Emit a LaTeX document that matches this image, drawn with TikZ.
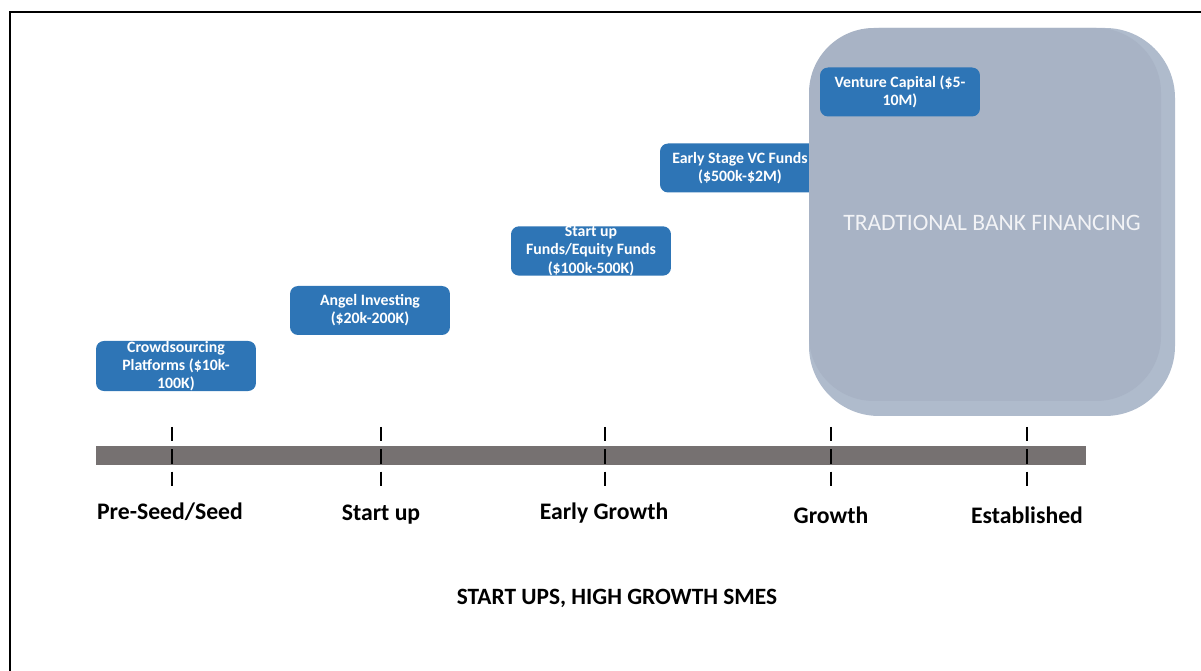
\documentclass[tikz,border=0pt]{standalone}
\usepackage{fontspec}
\setmainfont{Carlito}
\usetikzlibrary{positioning}
\definecolor{fundblue}{HTML}{2E75B6}
\definecolor{bankouter}{HTML}{AFBBCC}
\definecolor{bankinner}{HTML}{A8B3C5}
\definecolor{bargrey}{HTML}{767171}
\definecolor{banktext}{HTML}{F2F3F6}

\begin{document}
\begin{tikzpicture}[x=0.02cm, y=-0.02cm,
  fund/.style={fill=fundblue, text=white, rounded corners=0.16cm,
    minimum width=3.2cm, minimum height=0.98cm, inner sep=0pt, align=center,
    font=\fontsize{9}{10.4}\selectfont\bfseries},
  stage/.style={font=\fontsize{13.5}{16}\selectfont\bfseries},
  tickmark/.style={line width=1.1pt, dash pattern=on 8.2pt off 4.5pt}]
  \useasboundingbox (0,0) rectangle (1201,671);
  % frame
  \draw[line width=0.9pt] (10,671) -- (10,12) -- (1201,12);
  % funding boxes
  \node[fund] (crowd) at (176,366) {Crowdsourcing\\Platforms (\$10k-\\100K)};
  \node[fund] (angel) at (370,310.5) {Angel Investing\\(\$20k-200K)};
  \node[fund] (equity) at (591,251) {Start up\\Funds/Equity Funds\\(\$100k-500K)};
  \node[fund] (early) at (740,168) {Early Stage VC Funds\\(\$500k-\$2M)};
  % bank financing
  \fill[bankouter, rounded corners=1.4cm] (809,28) rectangle (1175,416);
  \fill[bankinner, rounded corners=1.3cm] (809,28) rectangle (1161,401);
  \node[text=banktext, font=\fontsize{13.4}{16}\selectfont] (bank) at (992,223) {TRADTIONAL BANK FINANCING};
  \node[fund] (venture) at (900,92) {Venture Capital (\$5-\\10M)};
  % timeline
  \node[fill=bargrey, minimum width=19.8cm, minimum height=0.38cm, inner sep=0pt] (bar) at (591,455.5) {};
  \coordinate (t1a) at (172,427); \coordinate (t1b) at (172,486);
  \coordinate (t2a) at (381,427); \coordinate (t2b) at (381,486);
  \coordinate (t3a) at (605,427); \coordinate (t3b) at (605,486);
  \coordinate (t4a) at (831,427); \coordinate (t4b) at (831,486);
  \coordinate (t5a) at (1027,427); \coordinate (t5b) at (1027,486);
  \draw[tickmark] (t1a)--(t1b);
  \draw[tickmark] (t2a)--(t2b);
  \draw[tickmark] (t3a)--(t3b);
  \draw[tickmark] (t4a)--(t4b);
  \draw[tickmark] (t5a)--(t5b);
  \node[stage] (seed) at (170,512) {Pre-Seed/Seed};
  \node[stage] (startup) at (381,515) {Start up};
  \node[stage] (earlygrowth) at (604,513) {Early Growth};
  \node[stage] (growth) at (831,515) {Growth};
  \node[stage] (established) at (1027,515) {Established};
  \node[stage, font=\fontsize{13.3}{16}\selectfont\bfseries] (smes) at (617,598) {START UPS, HIGH GROWTH SMES};
\end{tikzpicture}
\end{document}
